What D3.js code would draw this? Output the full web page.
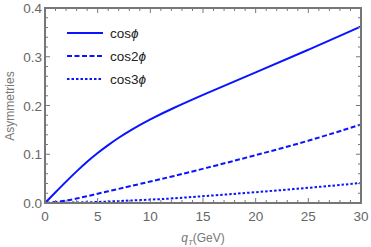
<!DOCTYPE html>
<html><head><meta charset="utf-8">
<script src="https://cdn.jsdelivr.net/npm/d3@7"></script>
<style>body{margin:0;background:#fff}svg{display:block}</style>
</head><body>
<svg id="c" width="371" height="247"></svg>
<script>
const qT      = [0, 1, 2, 3, 4, 5, 6, 7, 8, 10, 12, 15, 20, 25, 30];
const cosPhi  = [0, 0.022, 0.044, 0.065, 0.085, 0.103, 0.119, 0.134, 0.148, 0.172, 0.193, 0.222, 0.268, 0.314, 0.362];
const cos2Phi = [0, 0.002, 0.005, 0.009, 0.014, 0.019, 0.024, 0.029, 0.034, 0.044, 0.054, 0.07, 0.098, 0.127, 0.161];
const cos3Phi = [0, 0.0002, 0.0006, 0.001, 0.0015, 0.002, 0.003, 0.004, 0.005, 0.007, 0.009, 0.014, 0.022, 0.031, 0.041];
const seriesNames = ["cos", "cos2", "cos3"];
const xTicks = [0, 5, 10, 15, 20, 25, 30];
const yTicks = [0.0, 0.1, 0.2, 0.3, 0.4];

const svg = d3.select("#c");
const L = 45, R = 361, T = 8, B = 203;
const x = d3.scaleLinear().domain([0, 30]).range([L, R]);
const y = d3.scaleLinear().domain([0, 0.4]).range([B, T]);
const gray = "#777";
const font = "Liberation Sans, Arial, sans-serif";
const blue = "#0a14ff";

const series = [
  {vals: cosPhi, dash: null, name: seriesNames[0]},
  {vals: cos2Phi, dash: "5,2.5", name: seriesNames[1]},
  {vals: cos3Phi, dash: "2.5,2", name: seriesNames[2]}
];
const line = d3.line().x((d, i) => x(qT[i])).y(d => y(d)).curve(d3.curveBasis);
const plot = svg.append("g");
plot.append("clipPath").attr("id","cp").append("rect").attr("x",L).attr("y",T).attr("width",R-L).attr("height",B-T);
series.forEach(s => {
  plot.append("path").attr("d", line(s.vals)).attr("fill","none")
    .attr("stroke", blue).attr("stroke-width",2)
    .attr("stroke-dasharray", s.dash).attr("clip-path","url(#cp)");
});

// ticks on all sides
const tk = svg.append("g").attr("stroke", gray).attr("stroke-width", 1);
d3.range(0, 31, 1).forEach(v => {
  const len = v % 5 === 0 ? 5 : 3;
  tk.append("line").attr("x1", x(v)).attr("x2", x(v)).attr("y1", B).attr("y2", B - len);
  tk.append("line").attr("x1", x(v)).attr("x2", x(v)).attr("y1", T).attr("y2", T + len);
});
d3.range(0, 21, 1).forEach(k => {
  const v = k * 0.02;
  const len = k % 5 === 0 ? 5 : 3;
  tk.append("line").attr("y1", y(v)).attr("y2", y(v)).attr("x1", L).attr("x2", L + len);
  tk.append("line").attr("y1", y(v)).attr("y2", y(v)).attr("x1", R).attr("x2", R - len);
});
svg.append("rect").attr("x", L).attr("y", T).attr("width", R - L).attr("height", B - T)
  .attr("fill", "none").attr("stroke", gray).attr("stroke-width", 2);

// tick labels
svg.append("g").selectAll("text").data(xTicks).join("text")
  .attr("x", d => x(d)).attr("y", 221).attr("text-anchor", "middle")
  .attr("font-family", font).attr("font-size", 13.5).attr("fill", "#666").text(d => d);
svg.append("g").selectAll("text").data(yTicks).join("text")
  .attr("x", 42).attr("y", d => y(d) + 5).attr("text-anchor", "end")
  .attr("font-family", font).attr("font-size", 13.5).attr("fill", "#666").text(d => d.toFixed(1));

// axis titles
svg.append("text").attr("transform", "translate(14,106) rotate(-90)").attr("text-anchor", "middle")
  .attr("font-family", font).attr("font-size", 12).attr("fill", "#777").text("Asymmetries");
const xl = svg.append("text").attr("x", 203).attr("y", 242).attr("text-anchor", "middle")
  .attr("font-family", font).attr("font-size", 12).attr("fill", "#777");
xl.append("tspan").attr("font-style", "italic").text("q");
xl.append("tspan").attr("font-style", "italic").attr("font-size", 8).attr("dy", 3).text("T");
xl.append("tspan").attr("dy", -3).text("(GeV)");

// legend
const lg = svg.append("g");
series.forEach((s, i) => {
  const yy = 33 + i * 23;
  lg.append("line").attr("x1", 67).attr("x2", 103).attr("y1", yy).attr("y2", yy)
    .attr("stroke", blue).attr("stroke-width", 2).attr("stroke-dasharray", s.dash);
  const t = lg.append("text").attr("x", 110).attr("y", yy + 5).attr("font-family", font)
    .attr("font-size", 13.5).attr("fill", "#222");
  t.append("tspan").text(s.name);
  t.append("tspan").attr("font-style", "italic").text("\u03d5");
});
</script>
</body></html>
